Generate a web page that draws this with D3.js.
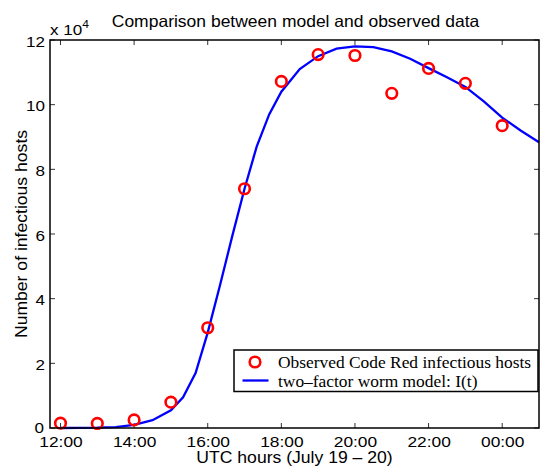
<!DOCTYPE html>
<html><head><meta charset="utf-8">
<script src="https://cdn.jsdelivr.net/npm/d3@7"></script>
<style>body{margin:0;background:#fff}svg{display:block}</style>
</head><body>
<script>
// Observed Code Red infectious hosts (hour of day, count)
const obsHours = [12,13,14,15,16,17,18,19,20,21,22,23,24];
const obsValues = [1500,1400,2500,8000,31000,74000,107200,115500,115200,103500,111200,106600,93500];
// Two-factor worm model I(t)
const modelHours = [12,13,13.5,14,14.5,15,15.33,15.67,16,16.33,16.67,17,17.33,17.67,18,18.5,19,19.5,20,20.5,21,21.5,22,22.5,23,23.5,24,24.5,25];
const modelValues = [0,100,300,1000,2400,5500,9500,17000,29500,44000,59500,74000,87000,97000,104000,111000,115000,117300,118000,117800,116500,114200,111300,108500,105500,101000,96000,92000,88400];
const xTickHours = [12,14,16,18,20,22,24];
const xTickLabels = ["12:00","14:00","16:00","18:00","20:00","22:00","00:00"];
const yTicks = [0,20000,40000,60000,80000,100000,120000];
const legendLabels = ["Observed Code Red infectious hosts","two\u2013factor worm model: I(t)"];

const W=541,H=466;
const L=50,R=539,T=40,B=428;
const svg=d3.select("body").append("svg").attr("width",W).attr("height",H);
const x=d3.scaleLinear().domain([11.715,25]).range([L,R]);
const y=d3.scaleLinear().domain([0,120000]).range([B,T]);
const sans="'Liberation Sans', Arial, Helvetica, sans-serif";

function stext(g, px, py, anchor, size, sx, txt, rot){
  return g.append("text")
    .attr("transform",`translate(${px},${py})${rot?` rotate(${rot})`:""} scale(${sx},1)`)
    .attr("text-anchor",anchor).attr("font-family",sans).attr("font-size",size).text(txt);
}

// ticks (inward, all four sides)
const tk=svg.append("g").attr("stroke","#333").attr("stroke-width",1);
xTickHours.forEach(h=>{
  tk.append("line").attr("x1",x(h)).attr("x2",x(h)).attr("y1",B).attr("y2",B-5);
  tk.append("line").attr("x1",x(h)).attr("x2",x(h)).attr("y1",T).attr("y2",T+5);
});
yTicks.forEach(v=>{
  tk.append("line").attr("x1",L).attr("x2",L+5).attr("y1",y(v)).attr("y2",y(v));
  tk.append("line").attr("x1",R).attr("x2",R-5).attr("y1",y(v)).attr("y2",y(v));
});

// model line
svg.append("path").datum(modelHours.map((h,i)=>[h,modelValues[i]]))
  .attr("fill","none").attr("stroke","#0000ff").attr("stroke-width",2.3)
  .attr("d",d3.line().x(d=>x(d[0])).y(d=>y(d[1])));
// observed circles
svg.append("g").selectAll("circle").data(obsHours.map((h,i)=>[h,obsValues[i]])).join("circle")
  .attr("cx",d=>x(d[0])).attr("cy",d=>y(d[1])).attr("r",5.3)
  .attr("fill","none").attr("stroke","#ff0000").attr("stroke-width",2.6);

// box
svg.append("rect").attr("x",L).attr("y",T).attr("width",R-L).attr("height",B-T)
  .attr("fill","none").attr("stroke","#000").attr("stroke-width",1.5);

// tick labels
const xl=svg.append("g");
xTickHours.forEach((h,i)=>stext(xl, x(h)+0.5, 446.5, "middle", 15.5, 1.12, xTickLabels[i]));
const yl=svg.append("g");
yTicks.forEach(v=>stext(yl, v===0?44:45, y(v)+(v===0?4.8:6.8), "end", 15.5, 1.1, String(v/10000)));

// exponent
const ex=svg.append("text").attr("transform","translate(50,34.5) scale(1.1,1)").attr("font-family",sans).attr("font-size",15.5);
ex.append("tspan").text("x 10");
ex.append("tspan").attr("dy",-7).attr("font-size",11).text("4");

// titles
stext(svg, 295.5, 26.5, "middle", 16.5, 1.06, "Comparison between model and observed data");
stext(svg, 294.5, 463, "middle", 16, 1.1, "UTC hours (July 19 \u2013 20)");
stext(svg, 27, 234, "middle", 16, 1.1, "Number of infectious hosts", -90);

// legend
const lg=svg.append("g");
lg.append("rect").attr("x",234).attr("y",350).attr("width",304).attr("height",41.5)
  .attr("fill","#fff").attr("stroke","#000").attr("stroke-width",1.5);
lg.append("circle").attr("cx",255).attr("cy",362).attr("r",5.3).attr("fill","none").attr("stroke","#ff0000").attr("stroke-width",2.6);
lg.append("line").attr("x1",242.5).attr("x2",268.5).attr("y1",380.5).attr("y2",380.5).attr("stroke","#0000ff").attr("stroke-width",2.3);
lg.selectAll("text.l").data(legendLabels).join("text").attr("class","l")
  .attr("x",278).attr("y",(d,i)=>367.5+i*19).attr("font-family","'Liberation Serif','Times New Roman',serif")
  .attr("font-size",17.4).text(d=>d);
</script>
</body></html>
